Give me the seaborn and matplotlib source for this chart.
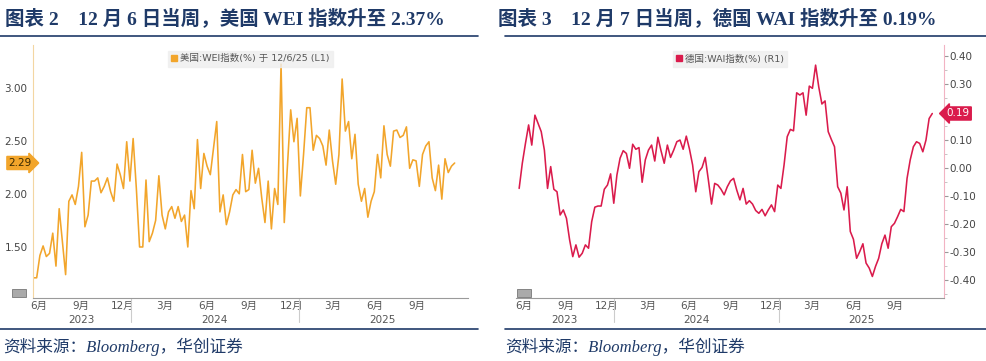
import matplotlib
matplotlib.use('Agg')
import pandas as pd
import matplotlib.pyplot as plt
import matplotlib.dates as mdates
from matplotlib.lines import Line2D
from matplotlib.patches import Rectangle
import seaborn as sns

# US WEI (%), weekly (last week = 12/6/25)
us_wei = [1.21, 1.21, 1.42, 1.51, 1.41, 1.44, 1.63, 1.32, 1.86, 1.55,
          1.24, 1.93, 1.99, 1.90, 2.07, 2.39, 1.69, 1.80, 2.12, 2.12,
          2.15, 2.01, 2.07, 2.15, 2.02, 1.93, 2.28, 2.18, 2.05, 2.49,
          2.12, 2.52, 2.05, 1.50, 1.50, 2.13, 1.55, 1.63, 1.75, 2.17,
          1.80, 1.67, 1.83, 1.88, 1.77, 1.88, 1.74, 1.80, 1.50, 2.03,
          1.86, 2.51, 2.05, 2.38, 2.26, 2.18, 2.43, 2.68, 1.83, 1.99,
          1.71, 1.83, 1.99, 2.04, 2.00, 2.37, 2.02, 2.04, 2.41, 2.10,
          2.24, 1.96, 1.73, 2.12, 1.67, 2.05, 1.90, 3.22, 1.73, 2.27,
          2.79, 2.49, 2.71, 1.98, 2.37, 2.81, 2.81, 2.41, 2.55, 2.52,
          2.45, 2.27, 2.60, 2.31, 2.09, 2.37, 3.08, 2.59, 2.68, 2.33,
          2.56, 2.09, 1.93, 2.05, 1.78, 1.93, 2.02, 2.37, 2.15, 2.64,
          2.37, 2.26, 2.59, 2.60, 2.53, 2.55, 2.63, 2.24, 2.32, 2.31,
          2.07, 2.37, 2.45, 2.49, 2.15, 2.03, 2.27, 1.95, 2.33, 2.20,
          2.26, 2.29]

# Germany WAI (%), weekly (last week = 12/7/25)
de_wai = [-0.073, 0.017, 0.088, 0.154, 0.082, 0.189, 0.160, 0.130, 0.064, -0.073,
          0.005, -0.076, -0.085, -0.168, -0.150, -0.180, -0.257, -0.317, -0.275, -0.319,
          -0.305, -0.275, -0.287, -0.192, -0.140, -0.136, -0.136, -0.076, -0.061, -0.021,
          -0.126, -0.025, 0.035, 0.062, 0.052, -0.001, 0.085, 0.067, 0.073, -0.051,
          0.029, 0.064, 0.082, 0.025, 0.110, 0.061, 0.017, 0.082, 0.038, 0.064,
          0.094, 0.100, 0.067, 0.114, 0.068, 0.011, -0.085, -0.013, 0.002, 0.038,
          -0.043, -0.129, -0.055, -0.061, -0.076, -0.096, -0.067, -0.046, -0.037, -0.079,
          -0.114, -0.073, -0.129, -0.117, -0.129, -0.152, -0.162, -0.148, -0.171, -0.150,
          -0.132, -0.156, -0.061, -0.073, 0.011, 0.112, 0.138, 0.133, 0.269, 0.261,
          0.269, 0.189, 0.293, 0.285, 0.368, 0.290, 0.229, 0.240, 0.130, 0.102,
          0.076, -0.067, -0.090, -0.150, -0.067, -0.227, -0.255, -0.323, -0.299, -0.271,
          -0.340, -0.358, -0.388, -0.352, -0.323, -0.271, -0.240, -0.287, -0.210, -0.198,
          -0.174, -0.148, -0.156, -0.037, 0.029, 0.076, 0.094, 0.088, 0.058, 0.100,
          0.177, 0.195]

us_dates = pd.date_range(end='2025-12-06', periods=len(us_wei), freq='7D')
de_dates = pd.date_range(end='2025-12-07', periods=len(de_wai), freq='7D')

# month labels sit mid-month, quarterly, Jun-2023 .. Sep-2025
month_ticks = pd.date_range('2023-06-01', '2025-09-01', freq='3MS') + pd.Timedelta(days=14)
years = [2023, 2024, 2025]

us_ticks = [1.5, 2.0, 2.5, 3.0]
de_ticks = [-0.4, -0.3, -0.2, -0.1, 0.0, 0.1, 0.3, 0.4]

titles = ['图表 2    12 月 6 日当周，美国 WEI 指数升至 2.37%',
          '图表 3    12 月 7 日当周，德国 WAI 指数升至 0.19%']
legend_labels = ['美国:WEI指数(%) 于 12/6/25 (L1)', '德国:WAI指数(%) (R1)']
tag_labels = ['2.29', '0.19']
source = '资料来源：Bloomberg，华创证券'

US_C = '#F2A52B'
DE_C = '#DA1B4C'
NAVY = '#1F3A68'

sns.set_style('white')
plt.rcParams['font.family'] = ['DejaVu Sans', 'Noto Sans CJK SC']
plt.rcParams['axes.unicode_minus'] = False

fig = plt.figure(figsize=(9.86, 3.61), dpi=100)
ax1 = fig.add_axes([33 / 986, 1 - 298 / 361, 435 / 986, 253 / 361])
ax2 = fig.add_axes([516 / 986, 1 - 298 / 361, 428 / 986, 253 / 361])

sns.lineplot(x=us_dates, y=us_wei, ax=ax1, color=US_C, linewidth=1.15)
sns.lineplot(x=de_dates, y=de_wai, ax=ax2, color=DE_C, linewidth=1.15)

ax1.set_xlim(pd.Timestamp('2023-06-02'), pd.Timestamp('2026-01-04'))
ax2.set_xlim(pd.Timestamp('2023-05-28'), pd.Timestamp('2026-01-02'))
ax1.set_ylim(1.02, 3.40)
ax2.set_ylim(-0.465, 0.44)

for ax, col, side in [(ax1, '#F3D6A2', 'left'), (ax2, '#F2B3C3', 'right')]:
    ax.set_xlabel('')
    ax.set_ylabel('')
    for s in ['top', 'left', 'right']:
        ax.spines[s].set_visible(False)
    ax.spines[side].set_visible(True)
    ax.spines[side].set_color(col)
    ax.spines['bottom'].set_color('#9A9A9A')
    ax.spines['bottom'].set_linewidth(0.8)
    ax.set_xticks(month_ticks)
    ax.set_xticklabels([f'{d.month}月' for d in month_ticks])
    ax.xaxis.set_minor_locator(mdates.MonthLocator(bymonthday=1))
    ax.tick_params(axis='x', which='major', length=0, pad=2, labelsize=7.5, labelcolor='#555555')
    ax.tick_params(axis='x', which='minor', length=2, color='#AAAAAA', direction='in')
    ax.tick_params(axis='y', which='major', length=3, color='#999999', labelsize=7.5,
                   labelcolor='#444444', pad=1)
    ax.tick_params(axis='y', which='minor', length=2, color='#BBBBBB')
    # year labels and separators under the month labels
    x0, x1 = [mdates.num2date(v).replace(tzinfo=None) for v in ax.get_xlim()]
    tr = ax.get_xaxis_transform()
    for yr in years:
        a = max(pd.Timestamp(x0), pd.Timestamp(f'{yr}-01-01'))
        b = min(pd.Timestamp(x1), pd.Timestamp(f'{yr}-12-31'))
        ax.text(a + (b - a) / 2, -0.088, str(yr), transform=tr, ha='center', va='center',
                fontsize=7.5, color='#555555')
        if yr > years[0]:
            ax.plot([pd.Timestamp(f'{yr}-01-01')] * 2, [0, -0.095], transform=tr,
                    color='#CCCCCC', lw=0.8, clip_on=False)

ax1.set_yticks(us_ticks)
ax1.set_yticks([1.25, 1.75, 2.25, 2.75, 3.25], minor=True)
ax1.yaxis.set_major_formatter(plt.FormatStrFormatter('%.2f'))

ax2.yaxis.tick_right()
ax2.set_yticks(de_ticks)
ax2.set_yticks([-0.45, -0.35, -0.25, -0.15, -0.05, 0.05, 0.15, 0.25, 0.35], minor=True)
ax2.yaxis.set_major_formatter(plt.FormatStrFormatter('%.2f'))

# legends
for ax, col, lab in [(ax1, US_C, legend_labels[0]), (ax2, DE_C, legend_labels[1])]:
    h = Line2D([], [], marker='s', ls='none', color=col, markersize=4.5)
    lg = ax.legend([h], [lab], loc='upper center', bbox_to_anchor=(0.5, 0.995),
                   frameon=True, fontsize=6.8, handlelength=0.6, handletextpad=0.3,
                   borderpad=0.35, fancybox=False)
    lg.get_frame().set_facecolor('#EEEEEE')
    lg.get_frame().set_edgecolor('#EEEEEE')
    for t in lg.get_texts():
        t.set_color('#555555')

# last value tags
ax1.text(-0.003, us_wei[-1], tag_labels[0], transform=ax1.get_yaxis_transform(),
         ha='right', va='center', fontsize=7.5, color='#3A2A00', zorder=5,
         bbox=dict(boxstyle='rarrow,pad=0.15', fc=US_C, ec=US_C))
ax2.text(1.006, de_wai[-1], tag_labels[1], transform=ax2.get_yaxis_transform(),
         ha='left', va='center', fontsize=7.5, color='white', zorder=5,
         bbox=dict(boxstyle='larrow,pad=0.15', fc=DE_C, ec=DE_C))

# titles, rules, sources
serif_cjk = ['Liberation Serif', 'Noto Sans CJK SC']
for x, t in [(5 / 986, titles[0]), (498 / 986, titles[1])]:
    fig.text(x, 1 - 18 / 361, t, family=serif_cjk, fontsize=14, fontweight='bold',
             color=NAVY, ha='left', va='center')
for (xa, xb) in [(0, 478 / 986), (505 / 986, 1.0)]:
    for yy in [1 - 36 / 361, 1 - 329 / 361]:
        fig.add_artist(Line2D([xa, xb], [yy, yy], color=NAVY, lw=1.2))
for x in [3 / 986, 505 / 986]:
    fig.text(x, 1 - 347 / 361, source, family=serif_cjk, fontsize=12, style='italic',
             color=NAVY, ha='left', va='center')

# small chart icons at lower left of each panel
for px in [12, 517]:
    fig.add_artist(Rectangle((px / 986, 1 - 297 / 361), 14 / 986, 8 / 361,
                             transform=fig.transFigure, fc='#AAAAAA', ec='#777777', lw=0.6))

fig.savefig('out.png', dpi=100, facecolor='white')
